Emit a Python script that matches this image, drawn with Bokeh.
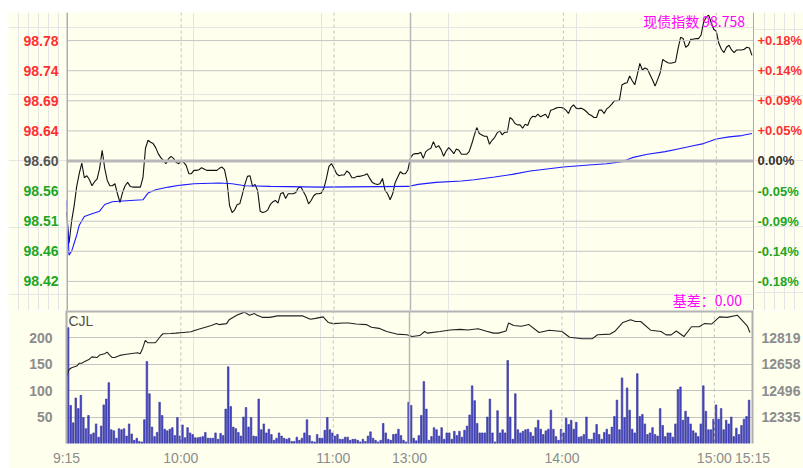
from bokeh.plotting import figure
from bokeh.models import (Range1d, LinearAxis, FixedTicker, ColumnDataSource,
                          Label, Span, Spacer, Grid)
from bokeh.layouts import column, row
from bokeh.embed import file_html
from bokeh.resources import INLINE
from bokeh.core.properties import value

# ---------------- data ----------------
BASE = 98.60  # previous settlement

price = [98.524, 98.477, 98.510, 98.533, 98.562, 98.581, 98.597, 98.575, 98.578, 98.572,
         98.563, 98.569, 98.573, 98.589, 98.616, 98.589, 98.571, 98.563, 98.563, 98.566,
         98.551, 98.538, 98.553, 98.563, 98.568, 98.562, 98.561, 98.561, 98.561, 98.561,
         98.575, 98.619, 98.631, 98.628, 98.626, 98.620, 98.611, 98.605, 98.601, 98.596,
         98.603, 98.607, 98.604, 98.598, 98.596, 98.600, 98.598, 98.593, 98.581, 98.581,
         98.586, 98.586, 98.587, 98.590, 98.588, 98.586, 98.586, 98.586, 98.586, 98.586,
         98.589, 98.591, 98.587, 98.569, 98.533, 98.523, 98.527, 98.535, 98.536, 98.550,
         98.565, 98.577, 98.578, 98.562, 98.565, 98.556, 98.525, 98.523, 98.524, 98.527,
         98.535, 98.539, 98.541, 98.537, 98.551, 98.553, 98.544, 98.551, 98.551, 98.551,
         98.553, 98.560, 98.561, 98.554, 98.547, 98.536, 98.541, 98.548, 98.551, 98.551,
         98.552, 98.559, 98.574, 98.592, 98.596, 98.589, 98.581, 98.578, 98.579, 98.579,
         98.585, 98.582, 98.575, 98.575, 98.577, 98.577, 98.578, 98.579, 98.581, 98.574,
         98.568, 98.566, 98.565, 98.566, 98.574, 98.556, 98.551, 98.542, 98.551, 98.568,
         98.576, 98.584, 98.581, 98.581, 98.587, 98.605, 98.610, 98.611, 98.611, 98.613,
         98.604, 98.614, 98.617, 98.619, 98.629, 98.620, 98.623, 98.617, 98.607, 98.615,
         98.620, 98.616, 98.611, 98.618, 98.616, 98.610, 98.610, 98.610, 98.614, 98.625,
         98.638, 98.650, 98.641, 98.639, 98.637, 98.637, 98.625, 98.631, 98.635, 98.642,
         98.645, 98.639, 98.643, 98.643, 98.665, 98.662, 98.656, 98.654, 98.654, 98.649,
         98.655, 98.653, 98.663, 98.667, 98.666, 98.670, 98.666, 98.668, 98.670, 98.664,
         98.676, 98.677, 98.679, 98.680, 98.680, 98.679, 98.676, 98.671, 98.680, 98.684,
         98.679, 98.678, 98.679, 98.677, 98.674, 98.670, 98.668, 98.665, 98.665, 98.676,
         98.676, 98.671, 98.678, 98.681, 98.685, 98.690, 98.690, 98.691, 98.714, 98.716,
         98.717, 98.727, 98.720, 98.714, 98.729, 98.746, 98.736, 98.739, 98.737, 98.729,
         98.721, 98.712, 98.722, 98.732, 98.752, 98.749, 98.747, 98.746, 98.747, 98.748,
         98.768, 98.785, 98.783, 98.770, 98.773, 98.782, 98.782, 98.783, 98.783, 98.788,
         98.807, 98.815, 98.818, 98.807, 98.797, 98.794, 98.776, 98.767, 98.762, 98.770,
         98.773, 98.766, 98.762, 98.766, 98.766, 98.766, 98.767, 98.770, 98.769, 98.758]

avg_min = [0, 1, 2, 3, 4, 5, 7, 10, 13, 15, 18, 25, 30, 32, 35, 40, 45, 50, 60, 65,
           70, 80, 100, 134, 138, 145, 155, 160, 168, 175, 182, 195, 205, 212, 218, 222,
           228, 235, 240, 245, 250, 255, 260, 265, 269]
avg_price = [98.541, 98.459, 98.465, 98.477, 98.489, 98.504, 98.517, 98.521, 98.525, 98.535,
             98.539, 98.541, 98.542, 98.552, 98.557, 98.561, 98.564, 98.566, 98.567, 98.566,
             98.563, 98.562, 98.561, 98.562, 98.565, 98.568, 98.570, 98.572, 98.576, 98.580,
             98.585, 98.591, 98.594, 98.596, 98.599, 98.605, 98.610, 98.614, 98.618, 98.622,
             98.626, 98.633, 98.636, 98.638, 98.641]

volume = [219, 72, 39, 86, 66, 91, 49, 28, 53, 17, 20, 37, 12, 33, 73, 84, 115, 26, 24, 10,
          28, 26, 28, 14, 37, 18, 6, 10, 4, 3, 45, 155, 94, 31, 13, 21, 78, 53, 27, 24,
          27, 30, 15, 49, 14, 35, 11, 30, 20, 17, 11, 11, 12, 13, 21, 10,
          10, 10, 20, 8, 19, 15, 65, 145, 70, 31, 28, 21, 14, 50, 68, 31, 49, 14, 13, 84, 26, 37, 20,
          27, 17, 6, 10, 20, 14, 10, 8, 10, 4, 4, 12, 6, 10, 20, 45, 15, 4, 3, 17, 10,
          10, 25, 49, 26, 20, 14, 17, 8, 8, 12, 12, 6, 8, 8, 6, 3, 8, 4, 14, 22,
          10, 6, 3, 6, 38, 20, 8, 6, 17, 18, 27, 15, 6, 3, 78, 72, 10, 5, 15, 53,
          117, 65, 6, 13, 30, 26, 14, 30, 8, 20, 20, 8, 23, 15, 23, 12, 25, 33, 54, 109,
          81, 38, 20, 20, 20, 50, 84, 20, 3, 62, 20, 26, 20, 157, 50, 8, 94, 26, 20, 23, 26,
          27, 21, 14, 30, 44, 27, 17, 24, 27, 63, 27, 13, 6, 27, 20, 48, 36, 44, 27, 40,
          12, 13, 17, 50, 8, 8, 20, 36, 17, 8, 21, 27, 17, 31, 51, 82, 26, 124, 49, 105,
          63, 27, 20, 132, 51, 55, 37, 17, 20, 30, 17, 14, 66, 34, 13, 20, 20, 12, 37, 102,
          107, 44, 61, 50, 37, 24, 20, 13, 37, 109, 61, 26, 26, 46, 73, 46, 66, 26, 44, 37, 50,
          13, 29, 17, 34, 46, 51, 82]

oi_min = [0, 1, 2, 4, 5, 6, 7, 9, 10, 12, 13, 15, 16, 17, 18, 19, 21, 23, 25, 28,
          29, 30, 31, 32, 35, 37, 38, 41, 43, 46, 49, 51, 54, 57, 59, 60, 63, 64, 67, 70,
          72, 74, 75, 77, 80, 83, 93, 96, 98, 101, 103, 105, 109, 111, 114, 118, 120, 123, 126, 130,
          134, 136, 139, 141, 142, 147, 151, 155, 158, 162, 165, 168, 170, 173, 174, 176, 179, 182, 186, 190,
          195, 198, 203, 207, 209, 214, 216, 219, 222, 224, 226, 230, 234, 236, 238, 240, 243, 246, 249, 251,
          254, 257, 260, 264, 266, 268, 269]
oi = [12579, 12625, 12636, 12646, 12663, 12663, 12673, 12688, 12702, 12698,
      12713, 12721, 12731, 12713, 12698, 12698, 12711, 12717, 12721, 12727,
      12721, 12755, 12803, 12788, 12788, 12828, 12843, 12845, 12847, 12851,
      12855, 12866, 12880, 12893, 12905, 12899, 12905, 12928, 12956, 12975,
      12956, 12966, 12956, 12943, 12943, 12952, 12952, 12932, 12937, 12946,
      12912, 12905, 12909, 12909, 12903, 12899, 12883, 12876, 12857, 12841,
      12837, 12826, 12832, 12857, 12847, 12857, 12866, 12870, 12866, 12874,
      12860, 12847, 12847, 12860, 12909, 12893, 12889, 12899, 12851, 12864,
      12857, 12822, 12813, 12813, 12837, 12841, 12860, 12912, 12928, 12918,
      12918, 12864, 12857, 12836, 12836, 12860, 12826, 12886, 12886, 12905,
      12903, 12946, 12943, 12956, 12923, 12889, 12851]

time_ticks = [0, 45, 105, 135, 195, 255, 270]
time_labels = ["9:15", "10:00", "11:00", "13:00", "14:00", "15:00", "15:15"]

price_ticks = [98.78, 98.735, 98.69, 98.645, 98.60, 98.555, 98.51, 98.465, 98.42]
price_tick_labels = ["98.78", "98.74", "98.69", "98.64", "98.60", "98.56", "98.51", "98.46", "98.42"]
pct_tick_labels = ["+0.18%", "+0.14%", "+0.09%", "+0.05%", "0.00%", "-0.05%", "-0.09%", "-0.14%", "-0.18%"]

vol_ticks = [50, 100, 150, 200]
oi_ticks = [12335, 12496, 12658, 12819]

spot_text = "现债指数 98.758"
basis_text = "基差：0.00"

# ---------------- style ----------------
BG = "#FFFFEE"
GRID = "#C4C4C4"
FRAME = "#ADADAD"
RED = "#FF3030"
GREEN = "#22A522"
MID = "#555555"
GRAYTXT = "#8C8C8C"
MAGENTA = "#FF00FF"

LEFT_W, FRAME_W, RIGHT_W = 58, 688, 49
UP_H, LOW_H = 298, 158
P_LO, P_HI = 98.3765, 98.822
V_HI = 251.4
OI_LO = 12173.7
OI_HI = OI_LO + V_HI * (12819 - 12335) / 150.0

xr = Range1d(0, 270)
yr_price = Range1d(P_LO, P_HI)
pct_ticks = [(t / BASE - 1) * 100 for t in price_ticks]
yr_pct = Range1d((P_LO / BASE - 1) * 100, (P_HI / BASE - 1) * 100)


def colored(vals, base, up, mid, down):
    out = []
    for v in vals:
        if abs(v - base) < 1e-9:
            out.append(mid)
        elif v > base:
            out.append(up)
        else:
            out.append(down)
    return out


def bare(width, height, x_range, y_range, **kw):
    opts = dict(width=width, height=height, x_range=x_range, y_range=y_range,
                output_backend="svg", toolbar_location=None,
                x_axis_location=None, y_axis_location=None,
                min_border_left=0, min_border_right=0, min_border_top=0, min_border_bottom=0,
                background_fill_color=BG, border_fill_color=BG, outline_line_color=None)
    opts.update(kw)
    return figure(**opts)


def add_vlines(p):
    for t, lbl in zip(time_ticks, time_labels):
        if t in (0, 270):
            continue
        if lbl == "13:00":
            p.add_layout(Span(location=t, dimension="height", line_color="#B8B8B8", line_width=1.5))
        else:
            p.add_layout(Span(location=t, dimension="height", line_color="#C0C0C0",
                              line_width=1, line_dash="3 3"))


# ---------------- upper panel: left tick labels ----------------
lf = bare(LEFT_W, UP_H, Range1d(0, LEFT_W), yr_price)
left_src = ColumnDataSource(dict(y=price_ticks, text=price_tick_labels,
                                 color=colored(price_ticks, BASE, RED, MID, GREEN)))
lf.text(x=LEFT_W - 8, y="y", text="text", text_color="color", source=left_src,
        text_align="right", text_baseline="middle",
        text_font=value("Liberation Sans"), text_font_style="bold", text_font_size="14px")

# ---------------- upper panel: price chart ----------------
p1 = bare(FRAME_W, UP_H, xr, yr_price)
for t in price_ticks:
    if abs(t - BASE) < 1e-9:
        p1.add_layout(Span(location=t, dimension="width", line_color="#B8B8B8", line_width=3))
    else:
        p1.add_layout(Span(location=t, dimension="width", line_color=GRID, line_width=1))
add_vlines(p1)
p1.add_layout(Span(location=xr.start, dimension="height", line_color=FRAME, line_width=3))
p1.add_layout(Span(location=xr.end, dimension="height", line_color=FRAME, line_width=3))

p1.line(x=list(range(len(price))), y=price, line_color="#111111", line_width=1.1)
p1.line(x=avg_min, y=avg_price, line_color="#1C1CFF", line_width=1.1)

p1.add_layout(Label(x=266.3, y=98.810, text=spot_text, text_align="right",
                    text_baseline="middle", text_color=MAGENTA,
                    text_font="Noto Sans CJK SC", text_font_size="14px"))
p1.add_layout(Label(x=265.1, y=98.3915, text=basis_text, text_align="right",
                    text_baseline="middle", text_color=MAGENTA,
                    text_font="Noto Sans CJK SC", text_font_size="14px"))

# ---------------- upper panel: right percent labels ----------------
rf = bare(RIGHT_W, UP_H, Range1d(0, RIGHT_W), yr_pct)
right_src = ColumnDataSource(dict(y=pct_ticks, text=pct_tick_labels,
                                  color=colored(pct_ticks, 0.0, RED, "#333333", GREEN)))
rf.text(x=3, y="y", text="text", text_color="color", source=right_src,
        text_align="left", text_baseline="middle",
        text_font=value("Liberation Sans"), text_font_style="bold", text_font_size="13px")

# ---------------- lower panel ----------------
p2 = bare(LEFT_W + FRAME_W + RIGHT_W, LOW_H, xr, Range1d(0, V_HI),
          min_border_left=LEFT_W, min_border_right=RIGHT_W)
p2.extra_y_ranges = {"oi": Range1d(OI_LO, OI_HI)}

lax2 = LinearAxis(ticker=FixedTicker(ticks=vol_ticks, minor_ticks=[]),
                  major_label_text_color=GRAYTXT, major_label_text_font="Liberation Sans",
                  major_label_text_font_style="bold", major_label_text_font_size="14px",
                  major_tick_line_color=None, minor_tick_line_color=None,
                  axis_line_color=FRAME, axis_line_width=2, major_label_standoff=8)
p2.add_layout(lax2, "left")
rax2 = LinearAxis(y_range_name="oi", ticker=FixedTicker(ticks=oi_ticks, minor_ticks=[]),
                  major_label_text_color=GRAYTXT, major_label_text_font="Liberation Sans",
                  major_label_text_font_style="bold", major_label_text_font_size="14px",
                  major_tick_line_color=None, minor_tick_line_color=None,
                  axis_line_color=FRAME, axis_line_width=2, major_label_standoff=3)
p2.add_layout(rax2, "right")
bax2 = LinearAxis(ticker=FixedTicker(ticks=time_ticks, minor_ticks=[]),
                  major_label_overrides={t: l for t, l in zip(time_ticks, time_labels)},
                  major_label_text_color=GRAYTXT, major_label_text_font="Liberation Sans",
                  major_label_text_font_size="14px",
                  major_tick_line_color=None, minor_tick_line_color=None,
                  axis_line_color=None, major_label_standoff=0)
p2.add_layout(bax2, "below")
p2.add_layout(Grid(dimension=1, axis=lax2, grid_line_color=GRID, grid_line_width=1))
p2.add_layout(Span(location=V_HI, dimension="width", line_color="#B4B4B4", line_width=4))
add_vlines(p2)

p2.vbar(x=[i + 0.65 for i in range(len(volume))], top=volume, bottom=0, width=0.62,
        fill_color="#4A4AC2", line_color="#2D2DA0", line_width=0.6)
p2.line(x=oi_min, y=oi, y_range_name="oi", line_color="#222222", line_width=1.1)

p2.add_layout(Label(x=0, y=231.8, x_offset=2, text="CJL", text_baseline="middle",
                    text_color="#505050", text_font="Liberation Sans", text_font_size="14px"))

upper = row(lf, p1, rf, spacing=0)
chart = column(Spacer(width=LEFT_W + FRAME_W + RIGHT_W, height=12), upper, p2, spacing=0)
layout = row(Spacer(width=8, height=12 + UP_H + LOW_H), chart, spacing=0)

open("out.html", "w").write(file_html(layout, INLINE))
